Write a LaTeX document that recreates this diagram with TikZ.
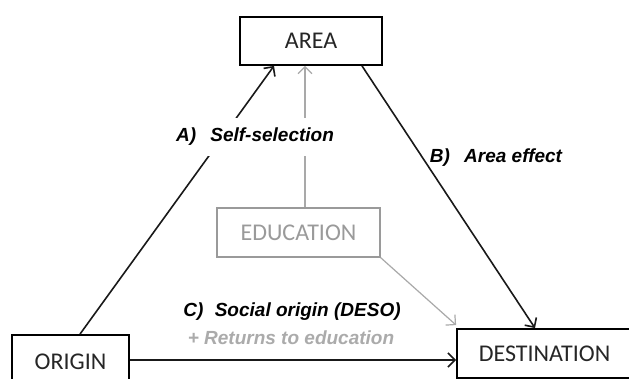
\documentclass[tikz,border=0pt]{standalone}
\usepackage{fontspec}
\setmainfont{Carlito}
\newfontfamily\labfont{Liberation Sans}
\usetikzlibrary{arrows.meta}
\definecolor{edugray}{HTML}{9A9A9A}
\definecolor{retgray}{HTML}{ABABAB}
\tikzset{
  box/.style={draw=black, line width=1.8pt, inner sep=0pt, text=black!85, font=\fontsize{24}{28}\selectfont},
  graybox/.style={draw=edugray, line width=1.3pt, inner sep=0pt, text=edugray, font=\fontsize{24}{28}\selectfont},
  conn/.style={draw=black!90, line width=1.6pt, -{Straight Barb[length=7pt,width=14pt,line width=1.6pt]}},
  grayconn/.style={draw=edugray!85, line width=1.2pt, -{Straight Barb[length=7pt,width=14pt,line width=1.2pt]}},
  lab/.style={font=\labfont\fontsize{19}{22}\selectfont\bfseries\itshape, inner sep=0pt}
}
\begin{document}
\begin{tikzpicture}[x=1pt,y=-1pt]
\clip (0,0) rectangle (629,379);
\fill[white] (0,0) rectangle (629,379);
% boxes
\node[box, minimum width=142pt, minimum height=48pt] (area) at (311,41) {AREA};
\node[graybox, minimum width=163pt, minimum height=49pt] (edu) at (298.5,232.5) {EDUCATION};
\node[box, minimum width=117pt, minimum height=54pt] (origin) at (70.5,362) {ORIGIN};
\node[box, minimum width=175pt, minimum height=49pt] (dest) at (544.5,353.5) {DESTINATION};
% connectors
\draw[conn] ([xshift=9.5pt]origin.north) -- ([xshift=-37pt]area.south);
\draw[grayconn] ([xshift=6.5pt]edu.north) -- ([xshift=-6pt]area.south);
\draw[conn] ([xshift=51pt]area.south) -- ([xshift=-9.5pt]dest.north);
\draw[grayconn] (edu.south east) -- ([yshift=3pt]dest.north west);
\draw[conn] (origin.east |- 0,360) -- (dest.west |- 0,360);
% labels
\node[lab, fill=white, inner ysep=10pt, inner xsep=2pt] (la) at (255,137) {A)\hspace{0.75em}Self-selection};
\node[lab] (lb) at (496,158) {B)\hspace{0.75em}Area effect};
\node[lab] (lc) at (292,312) {C)\hspace{0.6em}Social origin (DESO)};
\node[lab, text=retgray] (ld) at (291,338) {+ Returns to education};
\end{tikzpicture}
\end{document}
